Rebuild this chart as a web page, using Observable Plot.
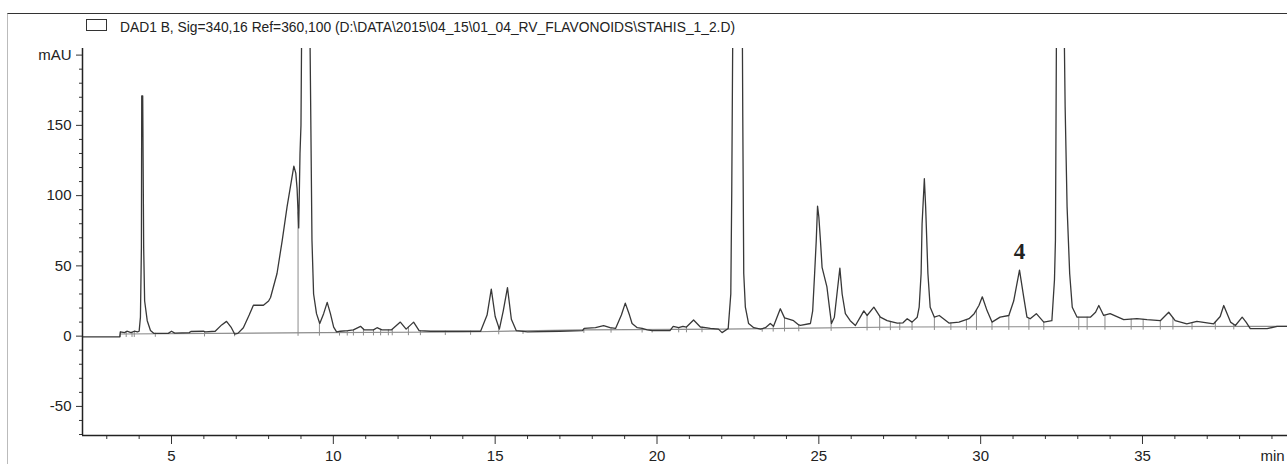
<!DOCTYPE html>
<html><head><meta charset="utf-8">
<script src="https://cdn.jsdelivr.net/npm/d3@7"></script>
<script src="https://cdn.jsdelivr.net/npm/@observablehq/plot@0.6"></script>
<style>
body{margin:0;background:#fff;}
#wrap{position:relative;width:1287px;height:464px;overflow:hidden;background:#fff;}
#box{position:absolute;left:7px;top:13px;width:1300px;height:470px;border-top:1.5px solid #333;border-left:1px solid #bbb;}
#legend{position:absolute;left:86px;top:19px;width:19px;height:10px;border:1px solid #333;}
#title{position:absolute;left:120px;top:20px;font-family:"Liberation Sans Narrow","Liberation Sans",Arial,sans-serif;font-size:14px;line-height:14px;white-space:nowrap;color:#222;transform-origin:0 0;}
#chart{position:absolute;left:0;top:0;}
</style></head>
<body><div id="wrap"><div id="box"></div><div id="legend"></div><div id="title">DAD1 B, Sig=340,16 Ref=360,100 (D:\DATA\2015\04_15\01_04_RV_FLAVONOIDS\STAHIS_1_2.D)</div><div id="chart"></div></div>
<script>
// retention time (min) and absorbance (mAU)
const traceT = [2.25,3.40,3.42,3.55,3.62,3.75,3.85,3.95,4.00,4.04,4.07,4.08,4.11,4.14,4.17,4.25,4.35,4.45,4.9,5.0,5.1,5.55,5.6,6.0,6.05,6.35,6.55,6.7,6.85,6.95,7.05,7.22,7.4,7.53,7.84,8.0,8.06,8.26,8.42,8.57,8.70,8.78,8.84,8.88,8.93,8.97,9.00,9.02,9.10,9.17,9.25,9.28,9.30,9.34,9.39,9.48,9.58,9.70,9.81,9.91,10.01,10.1,10.22,10.45,10.62,10.84,10.95,11.24,11.35,11.5,11.8,12.07,12.25,12.48,12.65,13.0,13.45,14.55,14.75,14.88,15.0,15.13,15.25,15.38,15.5,15.65,16.0,17.0,17.7,17.75,18.1,18.35,18.55,18.72,18.9,19.02,19.15,19.23,19.39,19.54,19.7,19.85,20.4,20.5,20.67,20.8,20.91,21.13,21.34,21.5,21.65,21.9,22.01,22.2,22.28,22.31,22.35,22.45,22.58,22.63,22.65,22.68,22.73,22.83,22.99,23.2,23.35,23.5,23.6,23.81,23.94,24.02,24.22,24.38,24.43,24.74,24.81,24.87,24.92,24.96,25.0,25.05,25.1,25.25,25.33,25.39,25.48,25.56,25.65,25.72,25.82,25.97,26.13,26.28,26.39,26.49,26.7,26.9,27.11,27.42,27.6,27.73,27.88,28.04,28.1,28.16,28.19,28.26,28.3,28.37,28.44,28.57,28.72,29.02,29.33,29.64,29.8,29.95,30.05,30.2,30.35,30.6,30.87,31.02,31.2,31.33,31.43,31.53,31.72,31.95,32.2,32.28,32.31,32.34,32.40,32.55,32.58,32.61,32.67,32.75,32.83,32.98,33.39,33.55,33.65,33.8,34.0,34.42,34.83,35.14,35.55,35.81,36.01,36.37,36.68,37.2,37.4,37.51,37.65,37.72,37.87,38.08,38.2,38.33,38.85,39.16,39.48];
const traceV = [-0.5,-0.5,3.0,2.5,3.5,2.5,3.5,3.0,3.5,13.5,63,171,171,63,25,11,4,2,2,3.5,2.2,2.5,3.3,3.5,3.0,3.5,8,10.5,6,1.5,2,6,15,22,22,25,27.5,44.6,68,92,110,121,116,105,77,130,150,215,420,440,400,210,163,68,30,16,9,16,24,16,6.4,3,3.5,4,4.5,7,4.5,4.5,6,4.5,4.5,10,5,10,4,3.5,3.5,3.5,15,33.5,14,5,18,34.5,12,4,3,3.5,4,5.5,6,7.5,6,5.5,15,23.5,15,9,6,5.5,4.5,4,4,7,6,7,6.5,11.5,6.5,6,5.5,5,2.5,5.5,30,104,250,450,450,250,156,44.6,20.6,9,6,5,6,9,7,19.5,13,12.4,11,8,7.6,9,18,44.6,68,92.5,85,68,49,35,20,9,13.5,30,48.4,30,16,11,7.6,13.5,18,14.7,20.6,13.5,11,9.3,9.5,12.4,10,13.5,20.6,44.6,80,112,92,44.6,20.6,13.5,14.7,9.3,10,12.4,16,22,28,18,10,13.5,14.7,25,47,27.8,13.5,12.4,16,10,11,40,68,210,420,430,220,163,92,44.6,20.6,13.5,13.5,17,21.8,14.7,16,11.7,12.4,11.7,11,17,11,8.8,10.5,8.8,14,21.8,14,10,7.6,13.5,10,5.3,5.3,7,7];

// integration baseline (gray)
const baseT = [3.42, 9.6, 14, 17.7, 22, 24, 27.5, 39.48];
const baseV = [1.5, 2.5, 3, 4.5, 5, 5.5, 6.5, 7];

// integration event marks (min)
const eventTimes = [3.42,3.6,3.78,3.85,4.5,6.02,6.95,8.91,9.57,10.19,10.43,10.62,10.93,11.24,11.46,11.7,11.82,12.32,12.69,13.46,14.24,15.11,15.86,17.74,18.58,19.54,19.85,20.67,20.91,21.39,22.01,23.25,23.59,23.94,24.38,25.38,26.49,26.88,27.21,27.5,27.88,28.57,29.08,29.56,29.87,30.35,30.87,31.49,31.95,33.03,33.29,33.84,34.65,35.02,35.55,35.94,36.53,37.25,37.82];

// peak annotation
const peakLabels = ["4"];
const peakLabelT = [31.2];
const peakLabelV = [60];

// axes
const xDomain = [2.25, 39.48];
const yDomain = [-70.7, 204.7];
const xMajor = [5, 10, 15, 20, 25, 30, 35];
const xMinor = [3,4,6,7,8,9,11,12,13,14,16,17,18,19,21,22,23,24,26,27,28,29,31,32,33,34,36,37,38,39];
const yMajor = [-50, 0, 50, 100, 150, 200];
const yMajorLabels = ["-50", "0", "50", "100", "150", "mAU"];
const yMinor = d3.range(-70, 201, 10).filter(v => v % 50 !== 0);
const xUnit = ["min"];
const xUnitT = [39.02];

const trace = traceT.map((t, i) => ({t, v: traceV[i]}));
const base = baseT.map((t, i) => ({t, v: baseV[i]}));
const interp = (T, V, t) => {
  if (t <= T[0]) return V[0];
  for (let i = 1; i < T.length; i++) if (t <= T[i]) {
    const f = (t - T[i-1]) / (T[i] - T[i-1]);
    return V[i-1] + f * (V[i] - V[i-1]);
  }
  return V[V.length - 1];
};
const events = eventTimes.map(t => ({t, lo: interp(baseT, baseV, t) - 2.5, hi: interp(traceT, traceV, t)}));
const labels = peakLabels.map((s, i) => ({s, t: peakLabelT[i], v: peakLabelV[i]}));

const font = '"Liberation Sans Narrow","Liberation Sans",Arial,sans-serif';

const chart = Plot.plot({
  width: 1287, height: 464,
  marginLeft: 82, marginRight: 0, marginTop: 48, marginBottom: 29,
  style: {fontFamily: font, fontSize: "15px", color: "#222", background: "transparent", overflow: "visible"},
  x: {domain: xDomain},
  y: {domain: yDomain},
  marks: [
    Plot.axisY(yMajor, {tickSize: 6, tickPadding: 5, tickFormat: (d) => yMajorLabels[yMajor.indexOf(d)], label: null, stroke: "#333"}),
    Plot.axisY(yMinor, {tickSize: 3, tickFormat: () => "", label: null, stroke: "#333"}),
    Plot.axisX(xMajor, {tickSize: 9, tickPadding: 6, label: null, stroke: "#333"}),
    Plot.axisX(xMinor, {tickSize: 4, tickFormat: () => "", label: null, stroke: "#333"}),
    Plot.axisX(xUnitT, {tickSize: 0, tickPadding: 15, tickFormat: () => xUnit[0], label: null}),
    Plot.line(base, {x: "t", y: "v", stroke: "#8c8c8c", strokeWidth: 1.1}),
    Plot.ruleX(events, {x: "t", y1: "lo", y2: "hi", stroke: "#8c8c8c", strokeWidth: 1}),
    Plot.line(trace, {x: "t", y: "v", stroke: "#383838", strokeWidth: 1.3, clip: true}),
    Plot.ruleX([xDomain[0]], {stroke: "#222", strokeWidth: 1.5}),
    Plot.ruleY([yDomain[0]], {stroke: "#222", strokeWidth: 1.5}),
    Plot.text(labels, {x: "t", y: "v", text: "s", fontFamily: '"Liberation Serif","Times New Roman",serif', fontWeight: "bold", fontSize: 23, fill: "#222"})
  ]
});
document.getElementById("chart").appendChild(chart);

// fit title width to the reference header
const title = document.getElementById("title");
const w = title.getBoundingClientRect().width;
title.style.transform = `scaleX(${615 / w})`;
</script>
</body></html>
